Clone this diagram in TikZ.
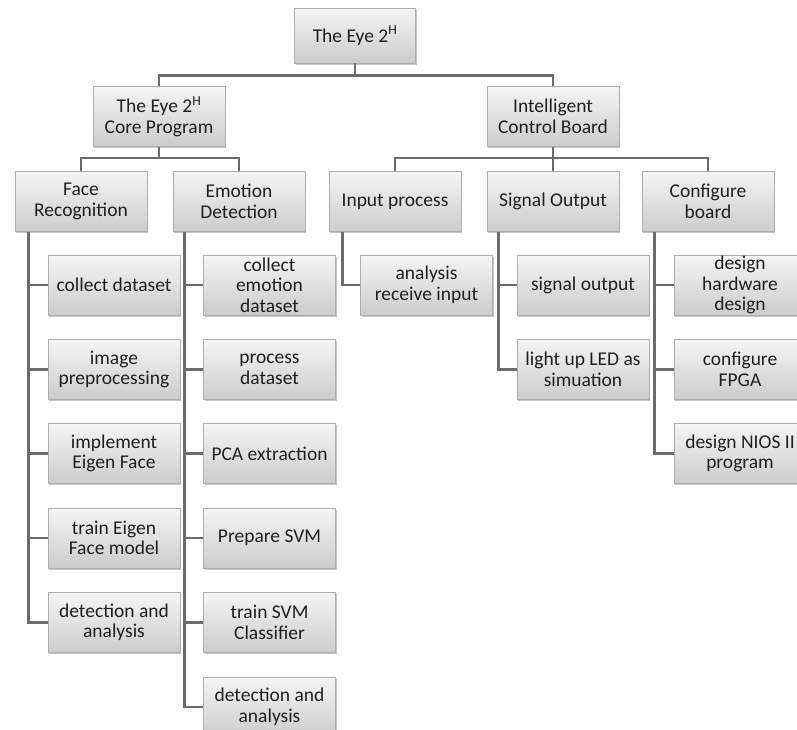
\documentclass[tikz,border=0pt]{standalone}
\usepackage{fontspec}
\setmainfont{Carlito}
\usetikzlibrary{shadows}
\begin{document}
\begin{tikzpicture}[x=1pt,y=-1pt,
  box/.style={draw=black!32, line width=0.8pt, top color=black!4, bottom color=black!20,
    minimum width=132pt, minimum height=60pt, inner sep=0pt, align=center,
    font=\fontsize{19.5}{20.5}\selectfont, text=black!88,
    drop shadow={shadow xshift=1.2pt, shadow yshift=-1.6pt, fill=black!45, opacity=0.5}},
  conn/.style={draw=black!58, line width=2.8pt}]
\useasboundingbox (0,0) rectangle (797,729);
\clip (0,0) rectangle (797,729);

% level 1-3
\node[box, minimum width=121pt, minimum height=55pt] (top) at (355,35.5) {The Eye 2\textsuperscript{H}};
\node[box] (core) at (159,116.5) {The Eye 2\textsuperscript{H}\\Core Program};
\node[box] (icb) at (553,116.5) {Intelligent\\Control Board};
\node[box] (face) at (81,201.5) {Face\\Recognition};
\node[box] (emot) at (239,201.5) {Emotion\\Detection};
\node[box] (ip) at (395,201.5) {Input process};
\node[box] (so) at (553,201.5) {Signal Output};
\node[box] (cb) at (708,201.5) {Configure\\board};

% face recognition children
\node[box] (f1) at (114,285) {collect dataset};
\node[box] (f2) at (114,369.5) {image\\preprocessing};
\node[box] (f3) at (114,453.5) {implement\\Eigen Face};
\node[box] (f4) at (114,538) {train Eigen\\Face model};
\node[box] (f5) at (114,622.5) {detection and\\analysis};

% emotion detection children
\node[box] (e1) at (269.5,285) {collect\\emotion\\dataset};
\node[box] (e2) at (269.5,369.5) {process\\dataset};
\node[box] (e3) at (269.5,453.5) {PCA extraction};
\node[box] (e4) at (269.5,538) {Prepare SVM};
\node[box] (e5) at (269.5,622.5) {train SVM\\Classifier};
\node[box] (e6) at (269.5,707) {detection and\\analysis};

% input process child
\node[box] (i1) at (426.5,285) {analysis\\receive input};

% signal output children
\node[box] (s1) at (583,285) {signal output};
\node[box] (s2) at (583,369.5) {light up LED as\\simuation};

% configure board children
\node[box] (c1) at (740,285) {design\\hardware\\design};
\node[box] (c2) at (740,369.5) {configure\\FPGA};
\node[box] (c3) at (740,453.5) {design NIOS II\\program};

% connectors between levels
\draw[conn] (top.south) -- ++(0,12) -| (core.north);
\draw[conn] (top.south) -- ++(0,12) -| (icb.north);
\draw[conn] (core.south) -- ++(0,11) -| (face.north);
\draw[conn] (core.south) -- ++(0,11) -| (emot.north);
\draw[conn] (icb.south) -- ++(0,11) -| (ip.north);
\draw[conn] (icb.south) -- ++(0,11) -| (so.north);
\draw[conn] (icb.south) -- ++(0,11) -| (cb.north);

% side trunks
\foreach \c in {f1,f2,f3,f4,f5}
  \draw[conn] (face.south west) ++(14,0) |- (\c.west);
\foreach \c in {e1,e2,e3,e4,e5,e6}
  \draw[conn] (emot.south west) ++(12,0) |- (\c.west);
\draw[conn] (ip.south west) ++(14,0) |- (i1.west);
\foreach \c in {s1,s2}
  \draw[conn] (so.south west) ++(12,0) |- (\c.west);
\foreach \c in {c1,c2,c3}
  \draw[conn] (cb.south west) ++(13,0) |- (\c.west);
\end{tikzpicture}
\end{document}
